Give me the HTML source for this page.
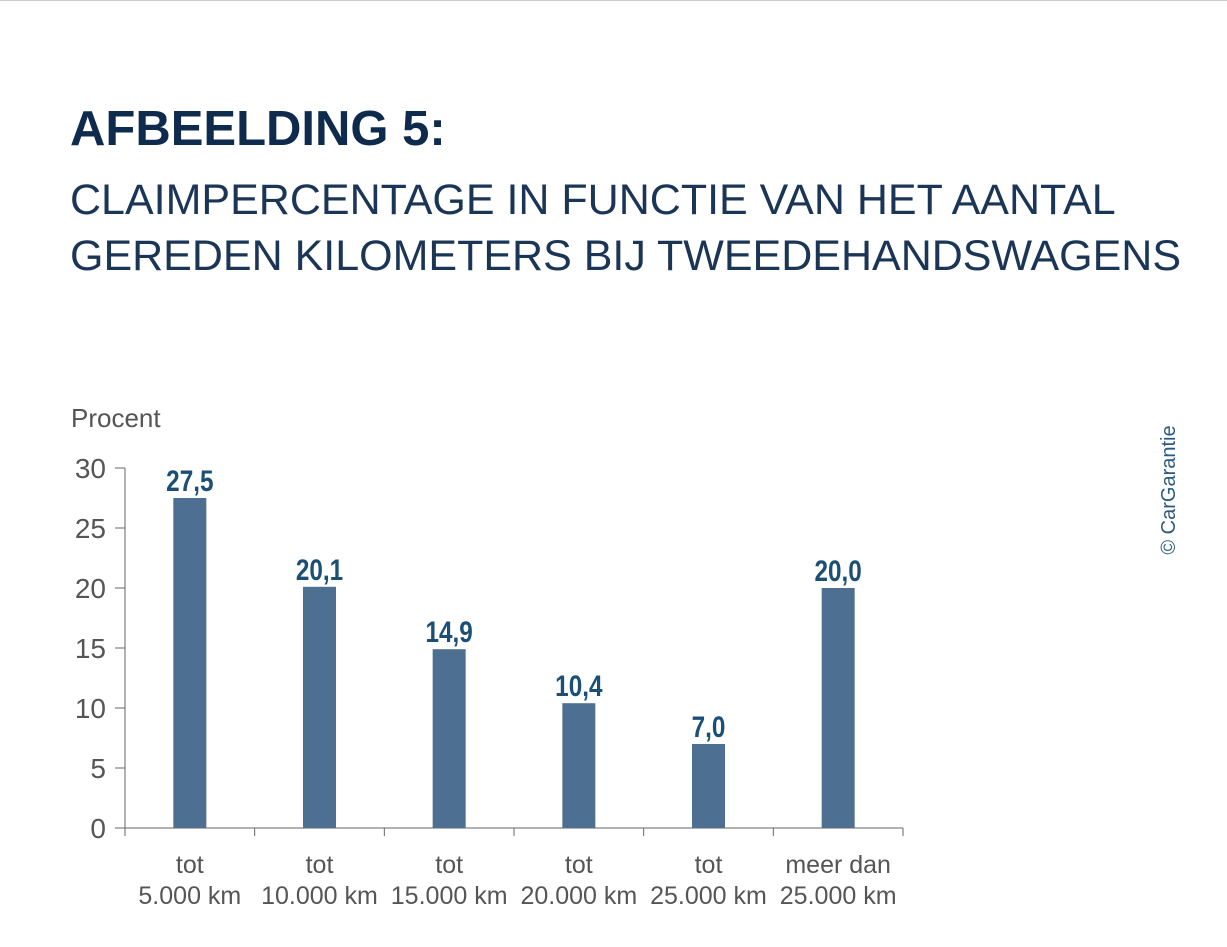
<!DOCTYPE html>
<html><head><meta charset="utf-8"><style>
html,body{margin:0;padding:0;background:#fff;}
body{width:1227px;height:947px;overflow:hidden;position:relative;font-family:"Liberation Sans",sans-serif;}
.t{position:absolute;left:70px;color:#0e2a4d;white-space:nowrap;}
</style></head><body>
<div style="position:absolute;left:0;top:0;width:1227px;height:1px;background:#ccc"></div>
<div class="t" style="top:101px;font-size:49px;font-weight:bold;">AFBEELDING 5:</div>
<div class="t" style="top:172px;font-size:43px;line-height:56px;color:#1b3556">CLAIMPERCENTAGE IN FUNCTIE VAN HET AANTAL<br>GEREDEN KILOMETERS BIJ TWEEDEHANDSWAGENS</div>
<svg id="chart" width="1227" height="947" style="position:absolute;left:0;top:0" font-family="'Liberation Sans',sans-serif"></svg>
<script>
const categories1=["tot","tot","tot","tot","tot","meer dan"];
const categories2=["5.000 km","10.000 km","15.000 km","20.000 km","25.000 km","25.000 km"];
const values=[27.5,20.1,14.9,10.4,7.0,20.0];
const labels=["27,5","20,1","14,9","10,4","7,0","20,0"];
const yTicks=[0,5,10,15,20,25,30];
const NS="http://www.w3.org/2000/svg";
const svg=document.getElementById('chart');
const x0=125,x1=903,y0=828,yMax=30,yTop=468;
const bw=(x1-x0)/values.length;
const y=v=>y0-(v/yMax)*(y0-yTop);
const xc=i=>x0+bw*(i+0.5);
function mk(tag,attrs,text){const e=document.createElementNS(NS,tag);for(const k in attrs)e.setAttribute(k,attrs[k]);if(text!==undefined)e.textContent=text;svg.appendChild(e);return e;}
let e;
e=mk('text',{x:71,y:427,'font-size':26,fill:'#555'},'Procent');


e=mk('line',{x1:x0,y1:yTop,x2:x0,y2:y0,stroke:'#666','stroke-width':1});


e=mk('line',{x1:x0,y1:y0,x2:x1,y2:y0,stroke:'#666','stroke-width':1});


yTicks.forEach(t=>{
 e=mk('line',{x1:115,y1:y(t),x2:x0,y2:y(t),stroke:'#666','stroke-width':1});
 
 
 e=mk('text',{x:106,y:y(t)+10,'font-size':28,fill:'#555','text-anchor':'end'},String(t));
 
 
});
for(let i=0;i<=values.length;i++){
 e=mk('line',{x1:x0+bw*i,y1:y0,x2:x0+bw*i,y2:y0+8,stroke:'#666','stroke-width':1});
 
 
}
values.forEach((v,i)=>{
 e=mk('rect',{x:xc(i)-16.5,y:y(v),width:33,height:y0-y(v),fill:'#4d6f91'});
 
 
 e=mk('text',{x:xc(i),y:y(v)-7,'font-size':27,'font-weight':'bold',fill:'#1c4f75','text-anchor':'middle',transform:`translate(${xc(i)},${y(v)-7}) scale(0.9,1.1) translate(${-xc(i)},${-(y(v)-7)})`},labels[i]);
 
 
 e=mk('text',{x:xc(i),y:873,'font-size':25,fill:'#555','text-anchor':'middle'},categories1[i]);
 
 
 e=mk('text',{x:xc(i),y:904,'font-size':25,fill:'#555','text-anchor':'middle'},categories2[i]);
 
 
});
e=mk('text',{x:0,y:0,'font-size':20,fill:'#2a5a80','text-anchor':'middle',transform:'translate(1175,490) rotate(-90)'},'© CarGarantie');


</script>
</body></html>
